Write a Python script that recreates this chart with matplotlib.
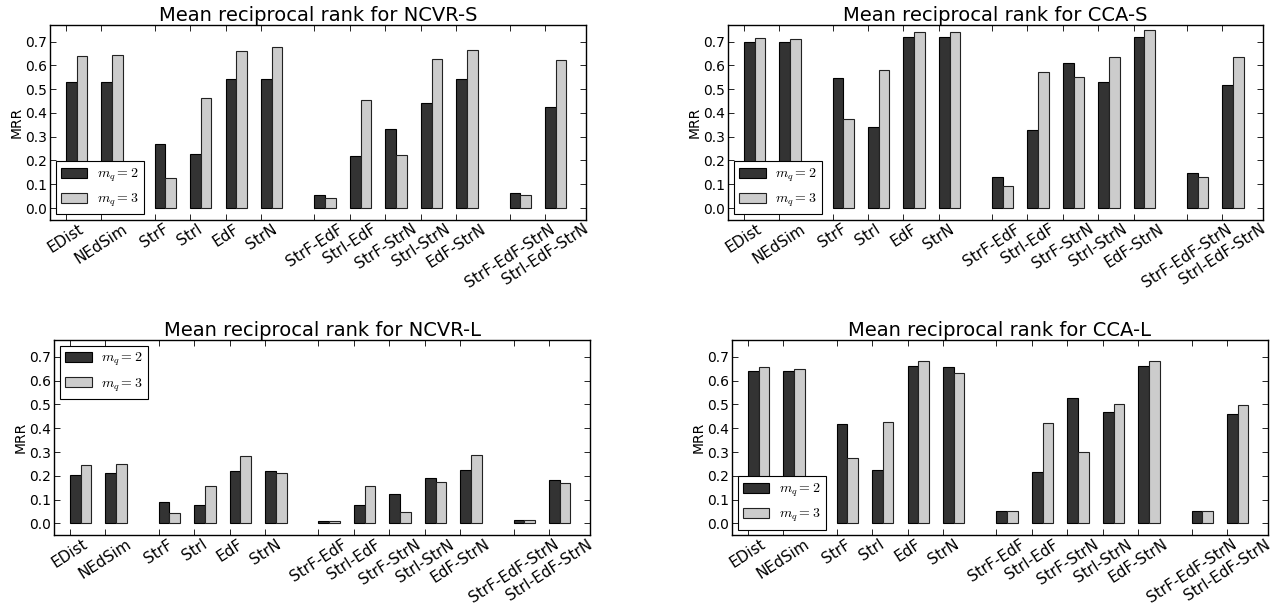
import numpy as np
import matplotlib
matplotlib.use('Agg')
import matplotlib.pyplot as plt

plt.rcParams['font.family'] = 'DejaVu Sans'
plt.rcParams['mathtext.fontset'] = 'cm'
plt.rcParams['xtick.direction'] = 'in'
plt.rcParams['ytick.direction'] = 'in'
plt.rcParams['xtick.top'] = True
plt.rcParams['ytick.right'] = True

methods = ["EDist", "NEdSim", "StrF", "StrI", "EdF", "StrN",
           "StrF-EdF", "StrI-EdF", "StrF-StrN", "StrI-StrN", "EdF-StrN",
           "StrF-EdF-StrN", "StrI-EdF-StrN"]
# tick positions (group gaps of 1.5)
positions = [0, 1, 2.5, 3.5, 4.5, 5.5, 7, 8, 9, 10, 11, 12.5, 13.5]

ncvr_s_mq2 = [0.531, 0.531, 0.270, 0.227, 0.541, 0.541, 0.055, 0.220, 0.334, 0.441, 0.541, 0.063, 0.424]
ncvr_s_mq3 = [0.637, 0.642, 0.125, 0.462, 0.662, 0.676, 0.042, 0.456, 0.224, 0.625, 0.663, 0.055, 0.621]

cca_s_mq2 = [0.697, 0.697, 0.545, 0.341, 0.720, 0.717, 0.129, 0.330, 0.608, 0.529, 0.720, 0.147, 0.518]
cca_s_mq3 = [0.714, 0.710, 0.375, 0.581, 0.738, 0.741, 0.093, 0.573, 0.552, 0.636, 0.748, 0.132, 0.635]

ncvr_l_mq2 = [0.204, 0.213, 0.092, 0.079, 0.221, 0.221, 0.011, 0.077, 0.124, 0.192, 0.223, 0.014, 0.182]
ncvr_l_mq3 = [0.246, 0.248, 0.045, 0.159, 0.285, 0.213, 0.011, 0.156, 0.049, 0.175, 0.286, 0.014, 0.172]

cca_l_mq2 = [0.641, 0.641, 0.418, 0.223, 0.662, 0.658, 0.051, 0.214, 0.527, 0.469, 0.662, 0.052, 0.458]
cca_l_mq3 = [0.658, 0.648, 0.273, 0.428, 0.682, 0.632, 0.051, 0.421, 0.299, 0.501, 0.682, 0.052, 0.497]

width = 0.3
dark = '#333333'
light = '#cccccc'


def draw(ax, title, mq2, mq3, legend_loc):
    x = np.array(positions)
    ax.bar(x, mq2, width, align='edge', color=dark, edgecolor='k', linewidth=0.8, label='$m_q=2$')
    ax.bar(x + width, mq3, width, align='edge', color=light, edgecolor='#222222', linewidth=0.8, label='$m_q=3$')
    ax.set_xticks(x)
    ax.set_xticklabels(methods, rotation=33, ha='center', fontsize=11)
    ax.set_xlim(-0.45, 14.65)
    ax.set_ylim(-0.05, 0.77)
    yt = np.arange(0, 0.71, 0.1)
    ax.set_yticks(yt)
    ax.set_yticklabels(['%.1f' % v for v in yt], fontsize=10)
    ax.set_ylabel('MRR', fontsize=10, labelpad=1)
    ax.set_title(title, fontsize=14, pad=3)
    ax.tick_params(length=4, width=0.6, pad=2)
    ax.tick_params(axis='x', pad=1)
    for s in ax.spines.values():
        s.set_linewidth(1.0)
    leg = ax.legend(loc=legend_loc, fancybox=False, framealpha=1, edgecolor='k',
                    fontsize=10, borderaxespad=0.4, handlelength=1.9,
                    handletextpad=0.7, labelspacing=0.55)
    leg.get_frame().set_linewidth(0.8)


fig = plt.figure(figsize=(12.71, 6.06), dpi=100)
ax1 = fig.add_axes([0.0393, 0.637, 0.4217, 0.322])
ax2 = fig.add_axes([0.5728, 0.637, 0.4210, 0.322])
ax3 = fig.add_axes([0.0425, 0.1165, 0.4217, 0.3224])
ax4 = fig.add_axes([0.5759, 0.1165, 0.4217, 0.3224])

draw(ax1, 'Mean reciprocal rank for NCVR-S', ncvr_s_mq2, ncvr_s_mq3, 'lower left')
draw(ax2, 'Mean reciprocal rank for CCA-S', cca_s_mq2, cca_s_mq3, 'lower left')
draw(ax3, 'Mean reciprocal rank for NCVR-L', ncvr_l_mq2, ncvr_l_mq3, 'upper left')
draw(ax4, 'Mean reciprocal rank for CCA-L', cca_l_mq2, cca_l_mq3, 'lower left')

fig.savefig('out.png', dpi=100)
